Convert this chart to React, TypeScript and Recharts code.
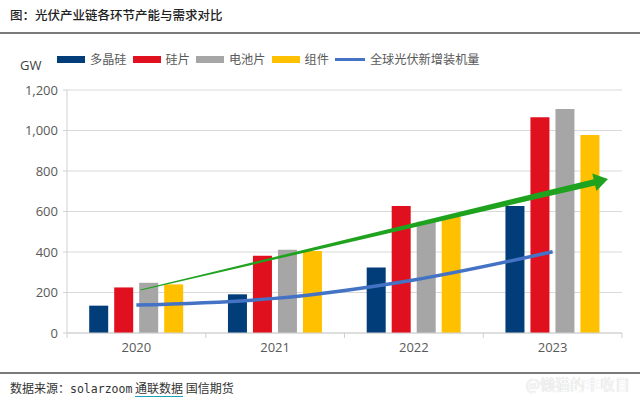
import React from 'react';
import { ComposedChart, Bar, Line, XAxis, YAxis, CartesianGrid, ReferenceLine } from 'recharts';

const years = ['2020', '2021', '2022', '2023'];
const polysilicon = [135, 191, 324, 627];
const wafer = [225, 382, 627, 1065];
const cell = [248, 411, 550, 1106];
const moduleCap = [240, 405, 574, 978];
const newInstall = [138, 171, 262, 401];
const yTicks = [0, 200, 400, 600, 800, 1000, 1200];

// hand-drawn trend arrow: anchored at 2020 and 2023 centres, then trimmed/extended
const trendAnchors = ['2020', '2023'];
const trendY = [207, 695];
const trendExtent = [0.01, 1.133];

const data = years.map((y, i) => ({
  year: y,
  poly: polysilicon[i],
  wafer: wafer[i],
  cell: cell[i],
  module: moduleCap[i],
  install: newInstall[i],
}));

const CJK = '"Noto Sans CJK SC", sans-serif';
const NUM = '"Open Sans", "Noto Sans", sans-serif';

const legendItems = [
  { label: '多晶硅', color: '#003d79', line: false },
  { label: '硅片', color: '#e0101e', line: false },
  { label: '电池片', color: '#a6a6a6', line: false },
  { label: '组件', color: '#ffc000', line: false },
  { label: '全球光伏新增装机量', color: '#4472c4', line: true },
];

const PLOT_LEFT = 67;
const PLOT_RIGHT = 18;
const BAND = (640 - PLOT_LEFT - PLOT_RIGHT) / years.length;

const YearTick = (props: any) => {
  const { x, y, payload, index } = props;
  const axisY = y - 10;
  return (
    <g>
      <line x1={x - BAND / 2} x2={x - BAND / 2} y1={axisY} y2={axisY + 5} stroke="#d0d0d0" />
      {index === years.length - 1 && (
        <line x1={x + BAND / 2} x2={x + BAND / 2} y1={axisY} y2={axisY + 5} stroke="#d0d0d0" />
      )}
      <text x={x} y={y} dy="0.71em" textAnchor="middle" fill="#595959" fontSize={13} fontFamily={NUM}>
        {payload.value}
      </text>
    </g>
  );
};

const TrendArrow = (props: any) => {
  const { x1: ax, y1: ay, x2: bx0, y2: by0 } = props;
  if (ax == null || bx0 == null) return null;
  const x1 = ax + (bx0 - ax) * trendExtent[0];
  const y1 = ay + (by0 - ay) * trendExtent[0];
  const x2 = ax + (bx0 - ax) * trendExtent[1];
  const y2 = ay + (by0 - ay) * trendExtent[1];
  const dx = x2 - x1;
  const dy = y2 - y1;
  const len = Math.sqrt(dx * dx + dy * dy);
  const ux = dx / len;
  const uy = dy / len;
  const nx = -uy;
  const ny = ux;
  const headLen = 14;
  const headHalf = 9;
  const bx = x2 - ux * headLen;
  const by = y2 - uy * headLen;
  const w0 = 0.5;
  const w1 = 3.2;
  const pts = [
    [x1 + nx * w0, y1 + ny * w0],
    [bx + nx * w1, by + ny * w1],
    [bx + nx * headHalf, by + ny * headHalf],
    [x2, y2],
    [bx - nx * headHalf, by - ny * headHalf],
    [bx - nx * w1, by - ny * w1],
    [x1 - nx * w0, y1 - ny * w0],
  ];
  return <polygon points={pts.map((p) => p.join(',')).join(' ')} fill="#1fa31f" />;
};

export default function App() {
  return (
    <div style={{ position: 'absolute', left: 0, top: 0, width: 640, height: 404, background: '#fff', overflow: 'hidden' }}>
      <div style={{ position: 'absolute', left: 10, top: 5, fontFamily: CJK, fontSize: 12.5, fontWeight: 500, color: '#222', letterSpacing: 0 }}>
        图：光伏产业链各环节产能与需求对比
      </div>
      <div style={{ position: 'absolute', left: 0, top: 32, width: 640, height: 2, background: '#7a7a7a' }} />

      <div style={{ position: 'absolute', left: 20, top: 56, fontFamily: NUM, fontSize: 13, color: '#404040' }}>GW</div>
      <div style={{ position: 'absolute', left: 57, top: 50, display: 'flex', alignItems: 'center', fontFamily: CJK, fontSize: 12.2, color: '#595959' }}>
        {legendItems.map((it) => (
          <div key={it.label} style={{ display: 'flex', alignItems: 'center', marginRight: 6 }}>
            <div style={{ width: it.line ? 30 : 28, height: it.line ? 3 : 7, background: it.color, marginRight: 5 }} />
            <span>{it.label}</span>
          </div>
        ))}
      </div>

      <div style={{ position: 'absolute', left: 0, top: 0 }}>
        <ComposedChart
          width={640}
          height={404}
          data={data}
          margin={{ top: 90, right: PLOT_RIGHT, bottom: 41, left: 0 }}
          barCategoryGap="16%"
          barGap={6}
        >
          <CartesianGrid vertical={false} stroke="#d9d9d9" strokeWidth={1.2} />
          <XAxis
            dataKey="year"
            height={30}
            axisLine={{ stroke: '#d0d0d0' }}
            tickLine={false}
            tick={<YearTick />}
            tickMargin={10}
            tickSize={0}
          />
          <YAxis
            width={PLOT_LEFT}
            domain={[0, 1200]}
            ticks={yTicks}
            interval={0}
            tickFormatter={(v: number) => v.toLocaleString('en-US')}
            axisLine={{ stroke: '#d0d0d0' }}
            tickLine={{ stroke: '#d0d0d0' }}
            tickSize={4}
            tickMargin={5}
            tick={{ fill: '#595959', fontSize: 13, fontFamily: NUM }}
          />
          <Bar dataKey="poly" fill="#003d79" isAnimationActive={false} />
          <Bar dataKey="wafer" fill="#e0101e" isAnimationActive={false} />
          <Bar dataKey="cell" fill="#a6a6a6" isAnimationActive={false} />
          <Bar dataKey="module" fill="#ffc000" isAnimationActive={false} />
          <ReferenceLine
            segment={[
              { x: trendAnchors[0], y: trendY[0] },
              { x: trendAnchors[1], y: trendY[1] },
            ]}
            ifOverflow="visible"
            shape={(p: any) => <TrendArrow {...p} />}
          />
          <Line
            dataKey="install"
            type="monotone"
            stroke="#4472c4"
            strokeWidth={3.5}
            dot={false}
            isAnimationActive={false}
          />
        </ComposedChart>
      </div>

      <div style={{ position: 'absolute', left: 0, top: 372, width: 640, height: 2, background: '#7a7a7a' }} />
      <div style={{ position: 'absolute', left: 10, top: 379, fontFamily: CJK, fontSize: 12, color: '#333' }}>
        数据来源：<span style={{ fontFamily: '"DejaVu Sans Mono", monospace', fontSize: 11.5 }}>solarzoom</span>{' '}
        <span style={{ borderBottom: '1.5px solid #1aa3b8' }}>通联数据</span> 国信期货
      </div>
      <div style={{ position: 'absolute', right: 10, top: 373, fontFamily: CJK, fontSize: 15, color: '#fafafa', textShadow: '0 0 1px #bbb' }}>
        @懒猫的丰收目
      </div>
    </div>
  );
}
